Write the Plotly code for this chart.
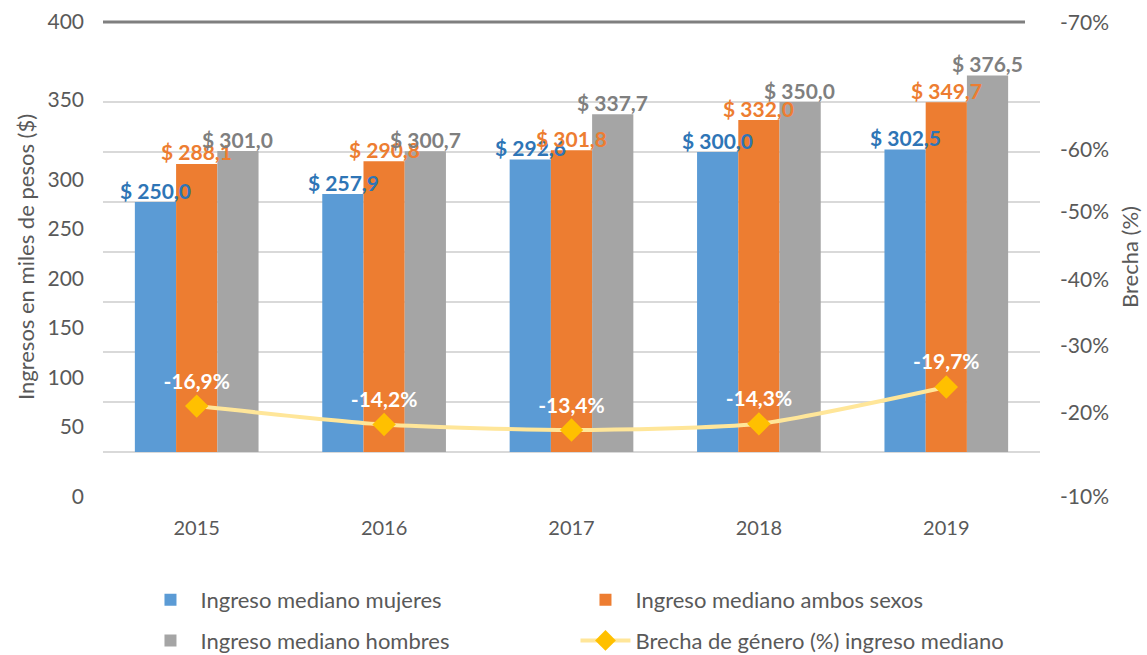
import plotly.graph_objects as go

# Datos
YEARS = ["2015", "2016", "2017", "2018", "2019"]
MUJERES = [250.0, 257.9, 292.6, 300.0, 302.5]
AMBOS = [288.1, 290.8, 301.8, 332.0, 349.7]
HOMBRES = [301.0, 300.7, 337.7, 350.0, 376.5]
BRECHA = [-16.9, -14.2, -13.4, -14.3, -19.7]

# Etiquetas de los ejes (tal como aparecen en la imagen)
LEFT_TICK_TEXT = ["400", "350", "300", "250", "200", "150", "100", "50", "0"]
LEFT_TICK_POS = [430, 352, 272, 223, 173, 124, 74, 25, -45]
RIGHT_TICK_TEXT = ["-70%", "-60%", "-50%", "-40%", "-30%", "-20%", "-10%"]
RIGHT_TICK_POS = [-73.1, -54.4, -45.3, -35.4, -25.7, -16.0, -3.6]

FONT = "Lato, 'Open Sans', sans-serif"
TXT = "#595959"


def money(v):
    return f"$ {v:.1f}".replace(".", ",")


def pct(vals):
    return [f"{v:.1f}%".replace(".", ",") for v in vals]


series = [
    ("Ingreso mediano mujeres", MUJERES, "#5B9BD5", "#2E75B6", "legend", -41),
    ("Ingreso mediano ambos sexos", AMBOS, "#ED7D31", "#ED7D31", "legend", 0),
    ("Ingreso mediano hombres", HOMBRES, "#A5A5A5", "#7F7F7F", "legend2", 41),
]

fig = go.Figure()
for name, vals, color, label_color, leg, shift in series:
    fig.add_trace(go.Bar(
        name=name, x=YEARS, y=vals, marker_color=color,
        marker_line=dict(width=0), legend=leg,
    ))
    # etiquetas de datos encima de todas las barras (x = índice de categoría)
    for i, v in enumerate(vals):
        fig.add_annotation(
            x=i, y=v, text=money(v), showarrow=False,
            xshift=shift, yshift=12, yanchor="middle",
            font=dict(color=label_color, size=21, weight="bold", family=FONT),
        )

fig.add_trace(go.Scatter(
    name="Brecha de género (%) ingreso mediano", x=YEARS, y=BRECHA,
    yaxis="y2", mode="lines+markers+text",
    line=dict(color="#FFE699", width=4, shape="spline", smoothing=0.6),
    marker=dict(symbol="diamond", size=18, color="#FFC000"),
    text=pct(BRECHA), textposition="top center",
    textfont=dict(color="white", size=21, weight="bold", family=FONT),
    cliponaxis=False, legend="legend2",
))

# línea gruesa superior
fig.add_shape(type="line", xref="paper", yref="y", x0=0, x1=0.984, y0=430, y1=430,
              line=dict(color="#7F7F7F", width=3))

legend_style = dict(
    orientation="h", xanchor="left", yanchor="middle", entrywidth=370,
    font=dict(family=FONT, size=22, color=TXT), bgcolor="rgba(0,0,0,0)",
    itemwidth=50,
)

fig.update_layout(
    width=1147, height=655,
    paper_bgcolor="white", plot_bgcolor="white",
    font=dict(family=FONT, size=20, color=TXT),
    margin=dict(l=103, r=107, t=12, b=153, autoexpand=False),
    barmode="group", bargap=0.34, bargroupgap=0,
    xaxis=dict(type="category", showline=False, ticks="", ticklabelstandoff=12,
               tickfont=dict(size=20, color=TXT), automargin=False),
    yaxis=dict(range=[-50, 440], tickvals=LEFT_TICK_POS, ticktext=LEFT_TICK_TEXT,
               showgrid=False, zeroline=False, ticklabelstandoff=18,
               tickfont=dict(size=21, color=TXT), automargin=False,
               minor=dict(tickvals=list(range(0, 351, 50)), showgrid=True,
                          gridcolor="#D9D9D9", gridwidth=1.5, ticks=""),
               title=dict(text="Ingresos en miles de pesos ($)", standoff=6,
                          font=dict(size=22, color=TXT))),
    yaxis2=dict(range=[-2.86, -74.6], overlaying="y", side="right", anchor="x",
                tickvals=RIGHT_TICK_POS, ticktext=RIGHT_TICK_TEXT,
                showgrid=False, zeroline=False, ticklabelstandoff=19,
                tickfont=dict(size=21, color=TXT), automargin=False,
                title=dict(text="Brecha (%)", standoff=14,
                           font=dict(size=22, color=TXT))),
    legend=dict(x=0.04, y=-0.2, **legend_style),
    legend2=dict(x=0.04, y=-0.283, **legend_style),
    showlegend=True,
)

fig.write_html("out.html", config={"displayModeBar": False},
               post_script="document.body.style.margin='0';")
